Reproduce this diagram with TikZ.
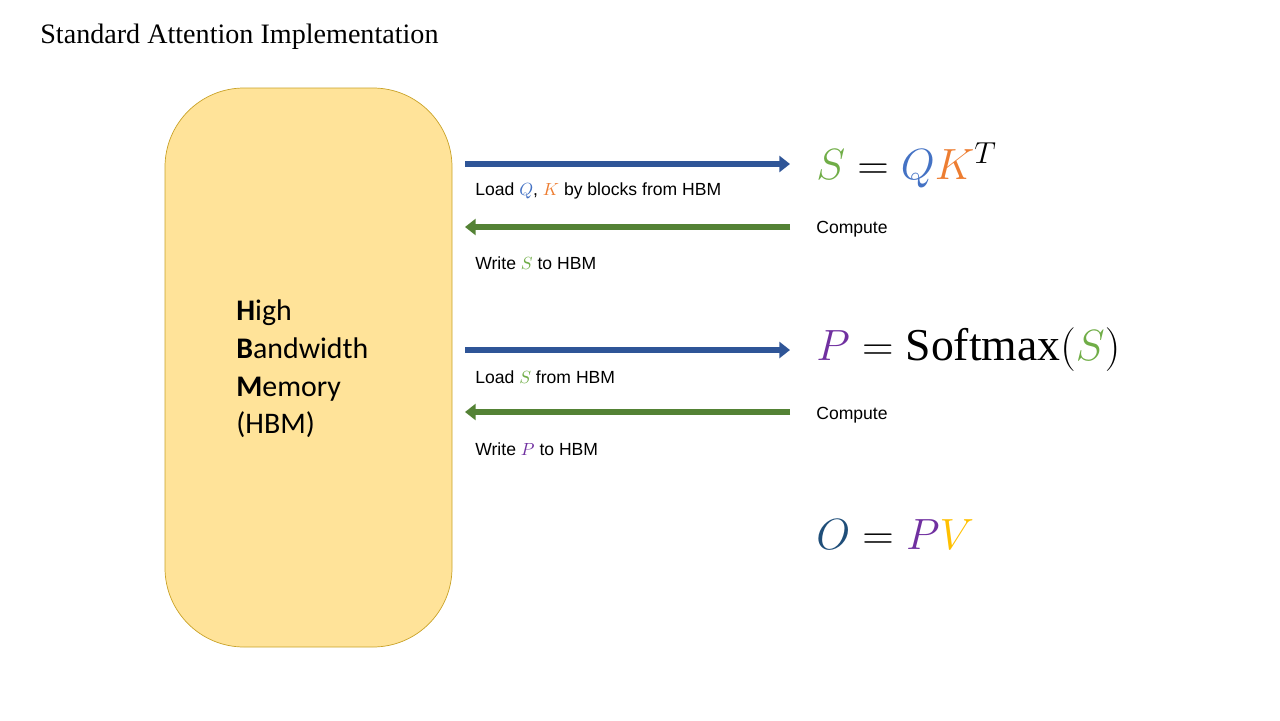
\documentclass[tikz,border=0pt]{standalone}
\usepackage{fontspec}
\usetikzlibrary{arrows.meta}
\setmainfont{Liberation Serif}
\setsansfont{Liberation Sans}
\newfontfamily\hbmfont{Carlito}
\definecolor{hbmfill}{HTML}{FFE399}
\definecolor{hbmline}{HTML}{C9A227}
\definecolor{loadblue}{HTML}{2F5597}
\definecolor{writegreen}{HTML}{548235}
\definecolor{cS}{HTML}{70AD47}
\definecolor{cQ}{HTML}{4472C4}
\definecolor{cK}{HTML}{ED7D31}
\definecolor{cP}{HTML}{7030A0}
\definecolor{cO}{HTML}{1F4E79}
\definecolor{cV}{HTML}{FFC000}
\tikzset{
  lbl/.style={anchor=west, inner sep=0pt, font=\sffamily\fontsize{10}{12}\selectfont},
  eqn/.style={anchor=west, inner sep=0pt, font=\fontsize{26}{30}\selectfont},
  loadarrow/.style={draw=loadblue, line width=3pt, -{Triangle[length=6pt,width=9pt]}},
  writearrow/.style={draw=writegreen, line width=3pt, -{Triangle[length=6pt,width=9pt]}}
}
\begin{document}
\begin{tikzpicture}[x=0.02cm, y=-0.02cm]
\useasboundingbox (0,0) rectangle (1280,720);
\node[anchor=west, inner sep=0pt, font=\fontsize{16}{19}\selectfont] (title) at (40,37) {Standard Attention Implementation};
% memory block
\draw[fill=hbmfill, draw=hbmline, rounded corners=45] (165,88) rectangle (452,647);
\node[anchor=west, align=left, inner sep=0pt, font=\hbmfont\fontsize{17}{21.5}\selectfont] (hbm) at (236,369)
  {\textbf{H}igh\\ \textbf{B}andwidth\\ \textbf{M}emory\\ (HBM)};
% first step
\coordinate (l1) at (465,164); \coordinate (r1) at (790,164);
\coordinate (l2) at (465,227); \coordinate (r2) at (790,227);
\draw[loadarrow] (l1) -- (r1);
\draw[writearrow] (r2) -- (l2);
\node[lbl] (loadqk) at (475,191) {Load $\textcolor{cQ}{Q}$, $\textcolor{cK}{K}$ by blocks from HBM};
\node[lbl] (comp1) at (816,229) {Compute};
\node[lbl] (writes) at (475,263) {Write $\textcolor{cS}{S}$ to HBM};
\node[eqn] (eqS) at (816,165) {$\textcolor{cS}{S}=\textcolor{cQ}{Q}\textcolor{cK}{K}^{T}$};
% second step
\coordinate (l3) at (465,350); \coordinate (r3) at (790,350);
\coordinate (l4) at (465,412); \coordinate (r4) at (790,412);
\draw[loadarrow] (l3) -- (r3);
\draw[writearrow] (r4) -- (l4);
\node[lbl] (loads) at (475,377) {Load $\textcolor{cS}{S}$ from HBM};
\node[lbl] (comp2) at (816,415) {Compute};
\node[lbl] (writep) at (475,449) {Write $\textcolor{cP}{P}$ to HBM};
\node[eqn] (eqP) at (816,350) {$\textcolor{cP}{P}=\mathrm{Softmax}(\textcolor{cS}{S})$};
% output
\node[eqn] (eqO) at (816,535) {$\textcolor{cO}{O}=\textcolor{cP}{P}\textcolor{cV}{V}$};
\end{tikzpicture}
\end{document}
